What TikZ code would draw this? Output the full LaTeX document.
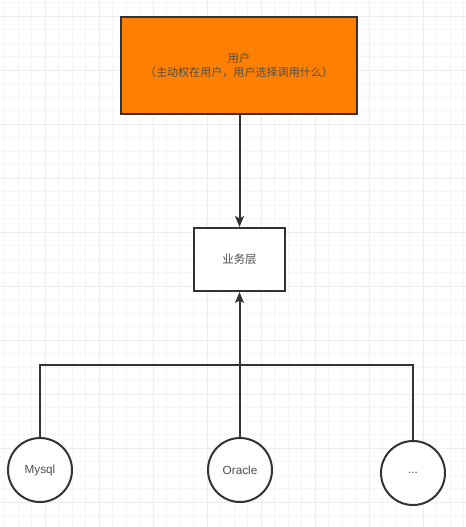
\documentclass[tikz,border=0pt]{standalone}
\usepackage{fontspec}
\setmainfont{Liberation Sans}
\newfontfamily\cjkfont{Noto Sans CJK SC}
\usetikzlibrary{arrows.meta,positioning}
\definecolor{userorange}{HTML}{FF8000}
\definecolor{edgegray}{HTML}{333333}
\definecolor{textgray}{HTML}{4D4D4D}

\tikzset{
  userbox/.style={draw=edgegray, line width=1.5pt, fill=userorange,
    minimum width=177pt, minimum height=72.75pt, align=center,
    text=textgray, font=\cjkfont\fontsize{8.3}{11}\selectfont},
  layerbox/.style={draw=edgegray, line width=1.5pt, fill=white,
    minimum width=68.25pt, minimum height=47.25pt,
    text=textgray, font=\cjkfont\fontsize{8.6}{11}\selectfont},
  dbnode/.style={circle, draw=edgegray, line width=1.5pt, fill=white,
    minimum size=48pt, inner sep=0pt, text=textgray,
    font=\fontsize{8.8}{11}\selectfont},
  link/.style={draw=edgegray, line width=1.5pt},
  tip/.style={-{Stealth[length=8pt, width=6.5pt, inset=1.5pt]}}
}

\begin{document}
\begin{tikzpicture}[x=0.75pt, y=-0.75pt]
  \useasboundingbox (0,0) rectangle (466,527);
  % grid
  \foreach \i in {0,...,35} {
    \draw[gray!7, line width=0.5pt] (4.5+13.5*\i,0) -- (4.5+13.5*\i,527);
  }
  \foreach \i in {0,...,39} {
    \draw[gray!7, line width=0.5pt] (0,2.5+13.5*\i) -- (466,2.5+13.5*\i);
  }
  \foreach \i in {0,...,8} {
    \draw[gray!14, line width=0.7pt] (45+54*\i,0) -- (45+54*\i,527);
  }
  \foreach \i in {0,...,9} {
    \draw[gray!14, line width=0.7pt] (0,16+54*\i) -- (466,16+54*\i);
  }
  % nodes
  \node[userbox] (user) at (239,65.5) {用户\\（主动权在用户，用户选择调用什么）};
  \node[layerbox] (service) at (239.5,259.5) {业务层};
  \node[dbnode] (mysql) at (40,470) {Mysql};
  \node[dbnode] (oracle) at (240,470) {Oracle};
  \node[dbnode] (more) at (413,473) {...};
  \coordinate (hub) at (239.5,365);
  % connectors
  \draw[link, tip] (user.south -| service.north) -- (service.north);
  \draw[link] (mysql.north) |- (hub);
  \draw[link] (more.north) |- (hub);
  \draw[link] (oracle.north) -- (oracle.north |- hub);
  \draw[link, tip] (hub) -- (service.south);
\end{tikzpicture}
\end{document}
